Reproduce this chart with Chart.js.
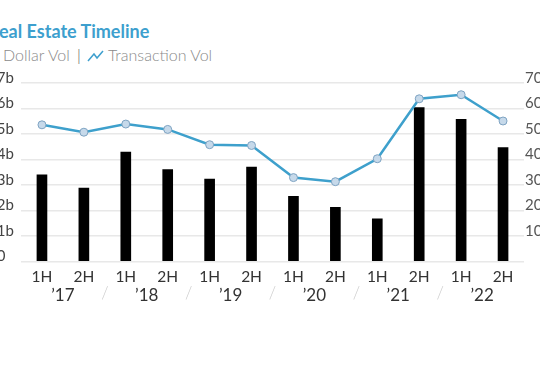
<!DOCTYPE html>
<html>
<head>
<meta charset="utf-8">
<script src="https://cdn.jsdelivr.net/npm/chart.js@4.4.1/dist/chart.umd.min.js"></script>
<style>
  html, body { margin: 0; padding: 0; background: #fff; overflow: hidden; width: 540px; height: 385px; }
  #wrap { position: relative; width: 540px; height: 385px; overflow: hidden; }
  #title { position: absolute; left: -12px; top: 20px; font: bold 18px Lato, sans-serif; color: #3d9fce; white-space: nowrap; }
  .leg { position: absolute; top: 45px; font: 300 16px Lato, sans-serif; color: #8a8a8a; white-space: nowrap; }
  .sq { position: absolute; left: -15px; top: 50px; width: 11px; height: 11px; background: #000; }
  #chart { position: absolute; left: -30px; top: 65px; }
</style>
</head>
<body>
<div id="wrap">
  <div id="title">Real Estate Timeline</div>
  <div class="sq"></div>
  <span class="leg" style="left:3px">Dollar Vol</span>
  <span class="leg" style="left:77px;color:#555">|</span>
  <svg style="position:absolute;left:87px;top:50px" width="17" height="12" viewBox="0 0 17 12"><polyline points="1,11 7,4 10,8 16,1" fill="none" stroke="#3d9fce" stroke-width="1.5"/></svg>
  <span class="leg" style="left:108px">Transaction Vol</span>
  <canvas id="chart" width="575" height="245"></canvas>
</div>
<script>
var halves = ['1H', '2H', '1H', '2H', '1H', '2H', '1H', '2H', '1H', '2H', '1H', '2H'];
var years = ['\u201917', '\u201918', '\u201919', '\u201920', '\u201921', '\u201922'];
var dollarVol = [3.40, 2.88, 4.29, 3.60, 3.23, 3.70, 2.56, 2.12, 1.67, 6.04, 5.58, 4.47];
var transactionVol = [53.6, 50.7, 53.9, 51.8, 45.8, 45.5, 32.9, 31.3, 40.3, 63.8, 65.4, 55.1];

var yearSlashes = {
    id: 'yearSlashes',
    afterDraw: function(chart) {
        var ctx = chart.ctx;
        var x = chart.scales.x;
        var x2 = chart.scales.x2;
        ctx.save();
        ctx.font = '300 17px Lato';
        ctx.fillStyle = '#cfcfcf';
        ctx.textAlign = 'center';
        ctx.textBaseline = 'middle';
        for (var i = 1; i < years.length; i++) {
            var px = (x.getPixelForValue(i * 2 - 1) + x.getPixelForValue(i * 2)) / 2;
            ctx.fillText('/', px, x2.top + 8);
        }
        ctx.restore();
    }
};

var ctx = document.getElementById('chart').getContext('2d');
window.timelineChart = new Chart(ctx, {
    data: {
        labels: halves,
        datasets: [{
            type: 'line',
            label: 'Transaction Vol',
            data: transactionVol,
            yAxisID: 'y2',
            borderColor: '#3ea0cc',
            borderWidth: 2.5,
            pointRadius: 4,
            pointBackgroundColor: '#c6d9ea',
            pointBorderColor: '#7ea3c2',
            pointBorderWidth: 1,
            tension: 0,
            order: 0
        }, {
            type: 'bar',
            label: 'Dollar Vol',
            data: dollarVol,
            yAxisID: 'y',
            backgroundColor: '#000',
            barThickness: 10,
            order: 1
        }]
    },
    options: {
        responsive: false,
        animation: false,
        layout: { padding: { left: 18, top: 18, right: 0, bottom: 4 } },
        plugins: { legend: { display: false }, tooltip: { enabled: false } },
        scales: {
            x: {
                position: 'bottom',
                offset: true,
                grid: { display: false, drawTicks: false },
                border: { display: false },
                ticks: { color: '#333', font: { family: 'Lato', size: 15.5, lineHeight: 1 }, padding: 8, maxRotation: 0 },
                afterFit: function(s) { s.height = 24.5; }
            },
            x2: {
                type: 'category',
                position: 'bottom',
                labels: years,
                offset: true,
                grid: { display: false, drawTicks: false },
                border: { display: false },
                ticks: { color: '#333', font: { family: 'Lato', size: 17, lineHeight: 1 }, padding: 1, maxRotation: 0 },
                afterFit: function(s) { s.height = 20; }
            },
            y: {
                position: 'left',
                min: 0,
                max: 7,
                grid: { color: '#e8e8e8', lineWidth: 1.5, drawTicks: false },
                border: { display: false },
                ticks: {
                    stepSize: 1,
                    crossAlign: 'far',
                    labelOffset: -5,
                    color: '#444',
                    font: { family: 'Lato', size: 15 },
                    callback: function(v) { return v === 0 ? '$0' : '$' + v + 'b'; }
                },
                afterFit: function(s) { s.width = 33; }
            },
            y2: {
                position: 'right',
                min: 0,
                max: 70,
                grid: { display: false, drawTicks: false },
                border: { display: false },
                ticks: {
                    stepSize: 10,
                    padding: 1,
                    labelOffset: -5,
                    color: '#555',
                    font: { family: 'Lato', size: 15 },
                    callback: function(v) { return v === 0 ? '' : v; }
                },
                afterFit: function(s) { s.width = 21; }
            }
        }
    },
    plugins: [yearSlashes]
});
</script>
</body>
</html>
